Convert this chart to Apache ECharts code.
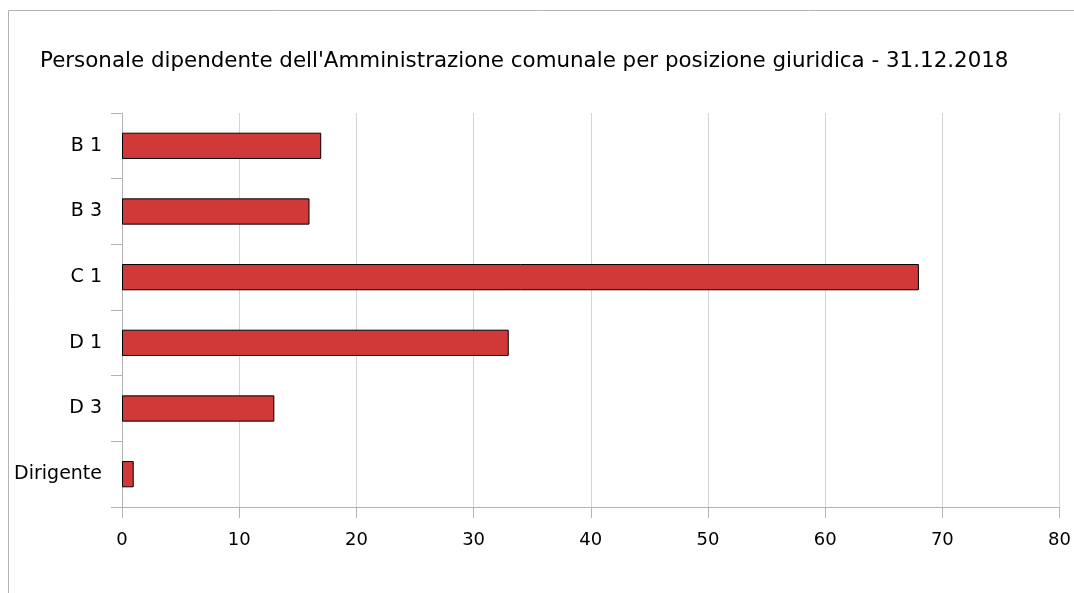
<!DOCTYPE html>
<html><head><meta charset="utf-8">
<script src="https://cdn.jsdelivr.net/npm/echarts@6/dist/echarts.min.js"></script>
<style>html,body{margin:0;padding:0;background:#fff}#c{width:1074px;height:593px}</style>
</head><body><div id="c"></div>
<script>
const titleText = "Personale dipendente dell'Amministrazione comunale per posizione giuridica - 31.12.2018";
const categories = ["B 1", "B 3", "C 1", "D 1", "D 3", "Dirigente"];
const values = [17, 16, 68, 33, 13, 1];
const xTicks = [0, 10, 20, 30, 40, 50, 60, 70, 80];

const chart = echarts.init(document.getElementById('c'), null, {renderer: 'canvas'});
const font = 'DejaVu Sans';
chart.setOption({
  animation: false,
  backgroundColor: '#fff',
  title: {
    text: titleText, left: 35, top: 46,
    textStyle: {fontFamily: font, fontSize: 21.4, fontWeight: 'normal', color: '#000'}
  },
  graphic: [{
    type: 'rect', shape: {x: 8.5, y: 10.5, width: 1100, height: 620},
    style: {fill: 'none', stroke: '#b3b3b3', lineWidth: 1}, silent: true
  }],
  grid: {left: 122, right: 13, top: 113, bottom: 86, containLabel: false},
  xAxis: {
    type: 'value', min: xTicks[0], max: xTicks[xTicks.length - 1], interval: 10,
    axisLine: {show: true, lineStyle: {color: '#b3b3b3'}},
    axisTick: {show: true, length: 11, lineStyle: {color: '#b3b3b3'}},
    axisLabel: {fontFamily: font, fontSize: 18, color: '#000', margin: 24},
    splitLine: {show: true, lineStyle: {color: '#d4d4d4'}}
  },
  yAxis: {
    type: 'category', data: categories, inverse: true,
    axisLine: {show: true, lineStyle: {color: '#b3b3b3'}},
    axisTick: {show: true, length: 11, lineStyle: {color: '#b3b3b3'}},
    axisLabel: {fontFamily: font, fontSize: 19, color: '#000', margin: 20},
    splitLine: {show: false}
  },
  series: [{
    type: 'bar', data: values, barWidth: '40%',
    itemStyle: {color: '#d13838', borderColor: '#000', borderWidth: 1}
  }]
});
</script></body></html>
